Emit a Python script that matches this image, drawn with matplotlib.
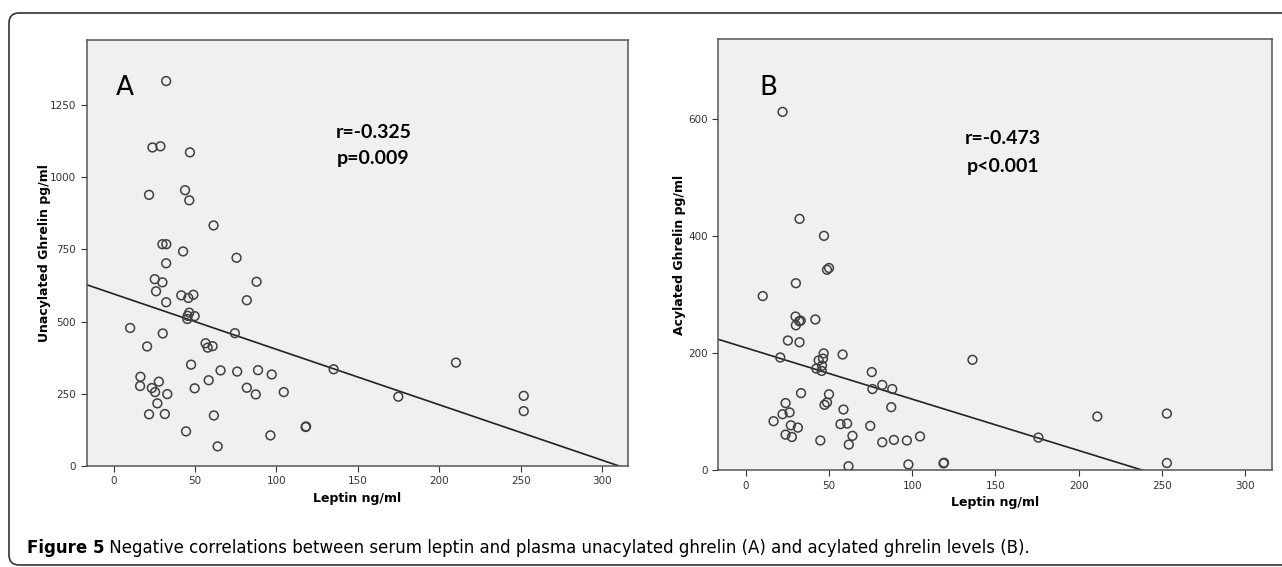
import matplotlib
matplotlib.use('Agg')
import matplotlib.pyplot as plt
from matplotlib.patches import FancyBboxPatch
from matplotlib.transforms import IdentityTransform
import numpy as np

# panel A: leptin vs unacylated ghrelin
leptin_a = [32.3, 23.9, 28.8, 46.9, 21.8, 43.9, 46.5, 61.4, 30.0, 32.4, 42.7, 75.5,
            32.3, 25.3, 30.0, 87.8, 26.1, 41.6, 45.9, 49.0, 32.3, 81.8, 46.5, 45.5,
            45.3, 49.8, 10.2, 30.2, 74.5, 20.6, 56.5, 57.8, 60.8, 47.6, 65.7, 75.9,
            88.7, 97.1, 135.1, 16.5, 16.3, 27.8, 23.5, 25.5, 33.0, 58.4, 49.8, 81.8,
            87.3, 104.5, 26.9, 21.8, 31.5, 61.6, 44.5, 117.9, 118.2, 96.3, 63.9,
            210.2, 174.8, 251.8, 251.8]
unacyl = [1333, 1103, 1107, 1086, 939, 955, 920, 833, 768, 768, 743, 721,
          702, 647, 636, 638, 605, 591, 582, 593, 567, 574, 531, 520,
          509, 519, 478, 459, 460, 414, 425, 410, 415, 351, 331, 327,
          332, 317, 335, 309, 277, 292, 270, 256, 249, 297, 269, 271,
          248, 256, 217, 179, 180, 175, 120, 135, 137, 106, 68,
          358, 240, 243, 190]

# panel B: leptin vs acylated ghrelin
leptin_b = [22.1, 32.3, 47.0, 48.8, 50.0, 30.1, 10.2, 29.9, 32.1, 33.0, 30.1, 41.8,
            25.3, 32.3, 20.7, 46.8, 43.8, 46.4, 45.8, 42.4, 45.6, 58.2, 136.2, 75.7,
            82.0, 76.1, 88.0, 33.2, 50.0, 23.9, 47.3, 48.8, 22.1, 26.3, 58.7, 87.4,
            16.7, 27.1, 31.3, 56.9, 60.9, 74.8, 23.9, 27.7, 64.1, 44.8, 61.9, 82.0,
            89.0, 96.8, 104.7, 97.7, 118.8, 119.1, 61.7, 211.2, 253.0, 175.8, 253.0]
acyl = [613, 430, 401, 343, 346, 320, 298, 263, 255, 256, 248, 258,
        222, 219, 193, 200, 188, 191, 179, 174, 170, 198, 189, 168,
        146, 139, 139, 132, 130, 115, 112, 116, 96, 99, 104, 108,
        84, 77, 73, 79, 80, 76, 61, 57, 59, 51, 44, 48,
        52, 51, 58, 10, 12, 13, 7, 92, 97, 56, 12.5]

# fitted lines (intercept, slope)
fit_a = (596, -1.92)
fit_b = (209.5, -0.878)

x_ticks = [0, 50, 100, 150, 200, 250, 300]
y_ticks_a = [0, 250, 500, 750, 1000, 1250]
y_ticks_b = [0, 200, 400, 600]

fig = plt.figure(figsize=(12.82, 5.67), dpi=100)

# rounded frame around the figure (right side runs off the image)
frame = FancyBboxPatch((9, 2), 1320, 552, boxstyle='round,pad=0,rounding_size=10',
                       transform=IdentityTransform(), facecolor='none',
                       edgecolor='#333333', linewidth=1.2)
fig.patches.append(frame)

ax1 = fig.add_axes([0.0676, 0.1781, 0.4225, 0.7513])
ax2 = fig.add_axes([0.5603, 0.1705, 0.4317, 0.7601])


def style_panel(ax, xs, ys, fit, yticks, ylim, ylabel, ylab_x, letter, stats, ypos):
    ax.set_facecolor('#f0f0f0')
    ax.scatter(xs, ys, s=40, facecolors='none', edgecolors='#404040', linewidths=1.1, zorder=3)
    xl = np.array([-16.5, 316])
    yl = fit[0] + fit[1] * xl
    ax.plot(xl, yl, color='#222222', linewidth=1.2, zorder=2)
    ax.set_xlim(-16.5, 316)
    ax.set_ylim(*ylim)
    ax.set_xticks(x_ticks)
    ax.set_yticks(yticks)
    ax.tick_params(labelsize=7.5, colors='#333333', length=4, width=0.8)
    for sp in ax.spines.values():
        sp.set_color('#555555')
        sp.set_linewidth(1.1)
    ax.set_xlabel('Leptin ng/ml', fontsize=9, fontweight='bold')
    ax.set_ylabel(ylabel, fontsize=9, fontweight='bold')
    ax.xaxis.set_label_coords(0.5, -0.06)
    ax.yaxis.set_label_coords(ylab_x, 0.5)
    ax.text(letter[0], letter[1], letter[2], transform=ax.transAxes, fontsize=19,
            ha='left', va='center')
    ax.text(ypos[0], ypos[1], stats[0], transform=ax.transAxes, fontsize=14,
            fontweight='bold', family='Lato', ha='center', va='center')
    ax.text(ypos[0], ypos[2], stats[1], transform=ax.transAxes, fontsize=14,
            fontweight='bold', family='Lato', ha='center', va='center')


style_panel(ax1, leptin_a, unacyl, fit_a, y_ticks_a, (0, 1475), 'Unacylated Ghrelin pg/ml', -0.066,
            (0.054, 0.887, 'A'), ('r=-0.325', 'p=0.009'), (0.529, 0.782, 0.721))
style_panel(ax2, leptin_b, acyl, fit_b, y_ticks_b, (0, 737), 'Acylated Ghrelin pg/ml', -0.058,
            (0.074, 0.886, 'B'), ('r=-0.473', 'p<0.001'), (0.514, 0.770, 0.704))

# caption
cap = fig.text(27 / 1282, 1 - 548 / 567, 'Figure 5', fontsize=12, fontweight='bold',
               ha='left', va='center')
ax1.annotate(' Negative correlations between serum leptin and plasma unacylated ghrelin (A) '
             'and acylated ghrelin levels (B).',
             xy=(1, 0.5), xycoords=cap, ha='left', va='center', fontsize=12,
             annotation_clip=False)

plt.savefig('out.png', dpi=100)
